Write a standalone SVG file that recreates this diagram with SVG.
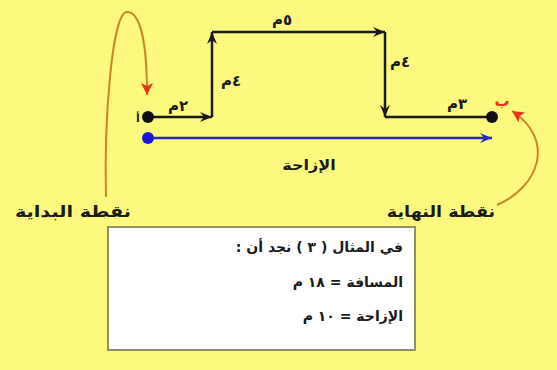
<svg xmlns="http://www.w3.org/2000/svg" width="557" height="370" viewBox="0 0 557 370">
<style>
.ar{font-family:"DejaVu Sans",sans-serif;font-weight:bold;fill:#1a1a1a}
.lbl{font-size:15px}
.path{fill:none;stroke:#1a1a1a;stroke-width:2.5}
.curve{fill:none;stroke:#C8862A;stroke-width:2}
</style>
<defs>
<marker id="ak" markerUnits="userSpaceOnUse" markerWidth="14" markerHeight="10" refX="12" refY="5" orient="auto"><path d="M0,0 L12,5 L0,10 L4,5 z" fill="#1a1a1a"/></marker>
<marker id="ab" markerUnits="userSpaceOnUse" markerWidth="14" markerHeight="10" refX="12" refY="5" orient="auto"><path d="M0,0 L12,5 L0,10 L4,5 z" fill="#2a2ab8"/></marker>
<marker id="ar" markerUnits="userSpaceOnUse" markerWidth="14" markerHeight="12" refX="12" refY="6" orient="auto"><path d="M0,0 L12,6 L0,12 L3,6 z" fill="#E8341C"/></marker>
</defs>
<rect x="0" y="0" width="557" height="370" fill="#FDF87E"/>
<g id="connectors">
<line class="path" x1="148" y1="117" x2="212" y2="117" marker-end="url(#ak)"/>
<line class="path" x1="212" y1="117" x2="212" y2="32" marker-end="url(#ak)"/>
<line class="path" x1="212" y1="32" x2="385" y2="32" marker-end="url(#ak)"/>
<line class="path" x1="385" y1="32" x2="385" y2="117" marker-end="url(#ak)"/>
<line class="path" x1="385" y1="117" x2="492" y2="117"/>
<line x1="148" y1="138" x2="492" y2="138" stroke="#2a2ab8" stroke-width="2.5" marker-end="url(#ab)"/>
<path class="curve" d="M106,197 C104,120 112,12 127,12 C141,12 147,45 147,95" marker-end="url(#ar)"/>
<path class="curve" d="M497,205 C539,187 556,140 512,111" marker-end="url(#ar)"/>
</g>
<g id="start">
<circle cx="148" cy="117" r="6" fill="#111"/>
<text class="ar" x="138" y="122" font-size="11" text-anchor="middle">أ</text>
</g>
<g id="end">
<circle cx="492" cy="117" r="6" fill="#111"/>
<text class="ar" x="502" y="106" font-size="15" text-anchor="middle" style="fill:#E8341C">ب</text>
</g>
<g id="displacement-start">
<circle cx="148" cy="138" r="6" fill="#1818d0"/>
</g>
<g id="segment-labels">
<text class="ar lbl" x="178" y="111" text-anchor="middle">٢م</text>
<text class="ar lbl" x="231" y="86" text-anchor="middle">٤م</text>
<text class="ar lbl" x="282" y="25" text-anchor="middle">٥م</text>
<text class="ar lbl" x="400" y="67" text-anchor="middle">٤م</text>
<text class="ar lbl" x="457" y="109" text-anchor="middle">٣م</text>
<text class="ar" font-size="14" text-anchor="middle" transform="translate(309,170) scale(1.15,1)">الإزاحة</text>
</g>
<g id="start-label">
<text class="ar" font-size="16" text-anchor="middle" transform="translate(73,217) scale(1.2,1)">نقطة البداية</text>
</g>
<g id="end-label">
<text class="ar" font-size="16" text-anchor="middle" transform="translate(441,217) scale(1.1,1)">نقطة النهاية</text>
</g>
<g id="result-box">
<rect x="108" y="227" width="307" height="123" fill="#ffffff" stroke="#8f8f6a" stroke-width="2"/>
<text class="ar" x="403" y="252" font-size="14" direction="rtl" text-anchor="start">في المثال ( ٣ ) نجد أن :</text>
<text class="ar" x="403" y="287" font-size="14" direction="rtl" text-anchor="start">المسافة = ١٨ م</text>
<text class="ar" x="403" y="321" font-size="14" direction="rtl" text-anchor="start">الإزاحة = ١٠ م</text>
</g>
</svg>
